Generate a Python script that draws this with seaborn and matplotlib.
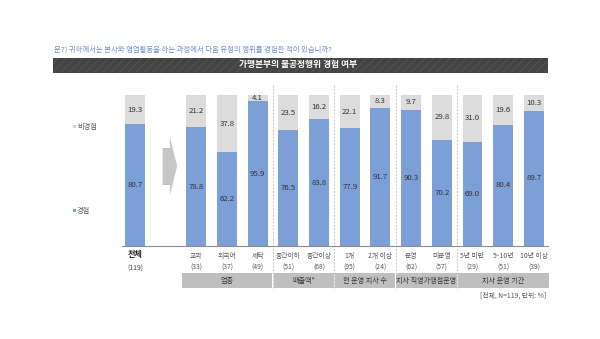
import matplotlib
matplotlib.use("Agg")
import matplotlib.pyplot as plt
import matplotlib.transforms as mtransforms
from matplotlib.patches import Rectangle, Polygon
import numpy as np
import pandas as pd
import seaborn as sns

# ---- data ----
categories = ["전체", "교과", "외국어", "세탁", "중간이하", "중간이상", "1개", "2개 이상",
              "운영", "미운영", "5년 미만", "5~10년", "10년 이상"]
counts = ["(119)", "(33)", "(37)", "(49)", "(51)", "(68)", "(95)", "(24)",
          "(62)", "(57)", "(29)", "(51)", "(39)"]
experienced = [80.7, 78.8, 62.2, 95.9, 76.5, 83.8, 77.9, 91.7, 90.3, 70.2, 69.0, 80.4, 89.7]
not_experienced = [19.3, 21.2, 37.8, 4.1, 23.5, 16.2, 22.1, 8.3, 9.7, 29.8, 31.0, 19.6, 10.3]
groups = ["업종", "매출액*", "현 운영 지사 수", "지사 직영가맹점운영", "지사 운영 기간"]
group_sizes = [3, 2, 2, 2, 3]

question = "문7) 귀하께서는 본사와 영업활동을 하는 과정에서 다음 유형의 행위를 경험한 적이 있습니까?"
title = "가맹본부의 불공정행위 경험 여부"
note = "[전체, N=119, 단위: %]"
legend_labels = ["비경험", "경험"]

BLUE = "#7b9fd6"
GRAY = "#dcdcdc"
TXT = "#333333"

sns.set_theme(style="white")
plt.rcParams["font.family"] = ["Noto Sans CJK KR", "DejaVu Sans"]
plt.rcParams["hatch.linewidth"] = 0.6

W, H = 600, 339
fig = plt.figure(figsize=(W / 100, H / 100), dpi=100)

def fy(py):
    return 1 - py / H

def fx(px):
    return px / W

ax = fig.add_axes([fx(122), fy(246), fx(548) - fx(122), fy(95) - fy(246)])

# overall bar at 0, arrow slot at 1, subgroups from 2 onwards
pos = [0] + list(range(2, 2 + len(categories) - 1))
df = pd.DataFrame({"pos": pos, "exp": experienced, "nonexp": not_experienced})
df["total"] = df["exp"] + df["nonexp"]

sns.barplot(data=df, x="pos", y="total", native_scale=True, width=0.65,
            color=GRAY, saturation=1, ax=ax, linewidth=0)
sns.barplot(data=df, x="pos", y="exp", native_scale=True, width=0.65,
            color=BLUE, saturation=1, ax=ax, linewidth=0)

ax.set_xlim(-0.42, 13.46)
ax.set_ylim(0, 100)
ax.set_xlabel("")
ax.set_ylabel("")
ax.set_xticks([])
ax.set_yticks([])
for s in ["top", "right", "left"]:
    ax.spines[s].set_visible(False)
ax.spines["bottom"].set_color("#8c8c8c")
ax.spines["bottom"].set_linewidth(0.8)

# value labels centred in each segment
for p, e, n in zip(pos, experienced, not_experienced):
    ax.text(p, e / 2, f"{e:.1f}", ha="center", va="center", fontsize=5.6, color=TXT)
    ax.text(p, e + n / 2, f"{n:.1f}", ha="center", va="center", fontsize=5.6, color=TXT)

# block arrow between overall bar and subgroups
arrow = Polygon([(0.9, 40.4), (1.14, 40.4), (1.14, 33.8), (1.38, 53.0),
                 (1.14, 72.2), (1.14, 64.9), (0.9, 64.9)],
                closed=True, facecolor="#c6c6c6", edgecolor="none")
ax.add_patch(arrow)

tr = mtransforms.blended_transform_factory(ax.transData, fig.transFigure)

# category and count labels
for i, (p, c, n) in enumerate(zip(pos, categories, counts)):
    if i == 0:
        ax.text(p, fy(255), c, transform=tr, ha="center", va="center",
                fontsize=5.8, fontweight="bold", color="#222222", clip_on=False)
        ax.text(p, fy(269), n, transform=tr, ha="center", va="center",
                fontsize=5.0, color="#444444", clip_on=False)
    else:
        ax.text(p, fy(256), c, transform=tr, ha="center", va="center",
                fontsize=4.9, color="#555555", clip_on=False)
        ax.text(p, fy(268), n, transform=tr, ha="center", va="center",
                fontsize=4.9, color="#555555", clip_on=False)

# group boxes and dashed separators
start = 1.5
for gi, (g, size) in enumerate(zip(groups, group_sizes)):
    end = start + size
    box = Rectangle((start + 0.02, fy(288)), size - 0.04, fy(273) - fy(288),
                    transform=tr, facecolor="#bfbfbf", edgecolor="none", clip_on=False)
    ax.add_patch(box)
    ax.text((start + end) / 2, fy(280.5), g, transform=tr, ha="center", va="center",
            fontsize=5.1, color="#333333", clip_on=False)
    if gi < len(groups) - 1:
        ax.plot([end, end], [fy(85), fy(290)], transform=tr, color="#c8c8c8",
                lw=0.7, ls=(0, (2, 1.5)), clip_on=False)
    start = end

# legend on the left
fig.patches.append(Rectangle((fx(73), fy(128)), fx(3), fy(125) - fy(128),
                             transform=fig.transFigure, facecolor="#d0d0d0", edgecolor="none"))
fig.text(fx(77), fy(126.5), legend_labels[0], ha="left", va="center", fontsize=5.2, color="#555555")
fig.patches.append(Rectangle((fx(73), fy(212)), fx(3), fy(209) - fy(212),
                             transform=fig.transFigure, facecolor=BLUE, edgecolor="none"))
fig.text(fx(77), fy(210.5), legend_labels[1], ha="left", va="center", fontsize=5.2, color="#555555")

# question line and title banner
fig.text(fx(54), fy(50), question, ha="left", va="center", fontsize=5.3, color="#6f8fc6")
banner = Rectangle((fx(53), fy(72.5)), fx(548) - fx(53), fy(58) - fy(72.5),
                   transform=fig.transFigure, facecolor="#444444", edgecolor="#565656",
                   hatch="////", linewidth=0)
fig.patches.append(banner)
fig.text(fx(298), fy(65), title, ha="center", va="center", fontsize=6.3,
         fontweight="bold", color="white")

# footnote
fig.text(fx(546), fy(296), note, ha="right", va="center", fontsize=4.9, color="#555555")

fig.savefig("out.png", dpi=100, facecolor="white")
